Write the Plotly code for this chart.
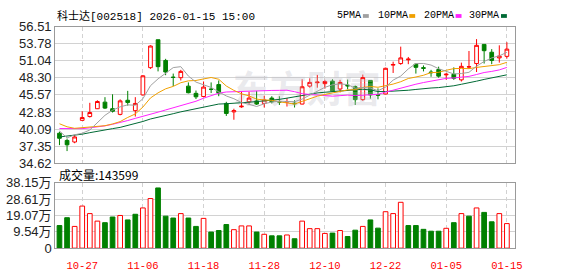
import plotly.graph_objects as go

# ---------------- data ----------------
dates = ["10-22","10-23","10-24","10-27","10-28","10-29","10-30","10-31",
         "11-03","11-04","11-05","11-06","11-07","11-10","11-11","11-12","11-13","11-14",
         "11-17","11-18","11-19","11-20","11-21","11-24","11-25","11-26","11-27","11-28",
         "12-01","12-02","12-03","12-04","12-05","12-08","12-09","12-10","12-11","12-12",
         "12-15","12-16","12-17","12-18","12-19","12-22","12-23","12-24","12-25","12-26",
         "12-29","12-30","12-31",
         "01-05","01-06","01-07","01-08","01-09","01-12","01-13","01-14","01-15"]

opens = [39.41, 38.25, 38.00, 41.48, 42.09, 43.35, 44.41, 43.35, 42.44, 44.71,
         43.04, 45.57, 49.95, 54.44, 51.11, 48.41, 48.34, 46.98, 45.82, 45.31,
         46.49, 47.23, 44.20, 42.84, 43.65, 44.46, 44.61, 44.20, 45.06, 44.48,
         44.41, 44.25, 44.10, 46.98, 47.53, 47.38, 47.79, 46.52, 47.13, 46.88,
         44.81, 47.89, 45.62, 45.72, 50.36, 50.61, 51.22, 50.51, 49.95, 49.25,
         49.65, 48.79, 48.89, 47.99, 50.05, 50.61, 53.69, 52.43, 51.52, 51.77]
highs = [39.66, 38.55, 39.11, 42.94, 44.30, 44.71, 45.21, 45.67, 44.86, 46.22,
         45.21, 48.74, 53.54, 54.44, 51.37, 49.00, 49.60, 47.58, 46.27, 47.73,
         47.58, 47.89, 44.46, 43.35, 46.07, 46.07, 46.22, 45.46, 45.36, 45.36,
         45.06, 44.71, 48.09, 48.24, 48.79, 47.99, 48.09, 47.99, 48.04, 47.08,
         48.84, 47.89, 46.62, 49.95, 50.91, 53.33, 51.67, 50.61, 50.31, 49.60,
         50.11, 49.10, 50.00, 50.76, 52.63, 54.54, 53.69, 52.93, 53.54, 54.04]
lows = [37.50, 36.54, 37.80, 41.43, 41.93, 43.30, 43.30, 42.74, 42.29, 43.85,
        42.09, 45.46, 49.75, 49.35, 48.74, 46.98, 47.89, 45.82, 44.91, 45.21,
        45.87, 45.36, 42.19, 41.58, 43.50, 44.05, 43.95, 43.55, 44.20, 43.95,
        43.70, 43.55, 44.05, 46.73, 46.73, 46.57, 46.07, 45.97, 46.47, 43.95,
        44.61, 44.96, 44.86, 45.67, 49.10, 50.41, 50.51, 49.00, 49.35, 48.49,
        48.34, 47.99, 47.99, 47.73, 49.75, 49.25, 50.61, 50.51, 50.76, 51.42]
closes = [38.60, 37.55, 38.81, 41.93, 42.74, 44.51, 43.45, 42.94, 44.61, 44.36,
          44.20, 48.64, 53.43, 50.11, 49.25, 48.39, 49.35, 45.92, 45.26, 46.83,
          46.47, 45.87, 42.59, 43.04, 43.75, 45.06, 44.10, 44.76, 44.46, 44.43,
          44.51, 44.15, 46.88, 47.58, 47.63, 47.73, 46.17, 47.58, 47.03, 44.81,
          48.34, 45.57, 45.52, 49.85, 50.46, 51.52, 51.32, 50.00, 49.85, 49.15,
          48.59, 48.89, 48.24, 50.16, 50.10, 53.54, 52.68, 51.11, 51.82, 52.93]

ma5 = [39.77, 38.66, 39.16, 39.41, 39.93, 41.11, 42.29, 43.11, 43.65, 43.97,
       43.91, 44.95, 47.05, 48.15, 49.13, 49.96, 50.11, 48.60, 47.63, 47.15,
       46.77, 46.07, 45.40, 44.96, 44.34, 44.06, 43.71, 44.14, 44.43, 44.56,
       44.47, 44.48, 44.90, 45.53, 46.14, 46.79, 47.20, 47.34, 47.23, 46.66,
       46.79, 46.67, 46.25, 46.82, 47.95, 48.60, 49.75, 50.62, 50.63, 50.37,
       49.78, 49.30, 48.94, 49.01, 49.20, 50.19, 50.94, 51.52, 51.85, 52.42]
ma10 = [40.93, 40.45, 40.20, 40.30, 40.50, 40.55, 40.62, 40.90, 41.28, 41.95,
        42.51, 43.62, 45.08, 45.90, 46.55, 46.94, 47.53, 47.83, 47.89, 48.14,
        48.37, 48.09, 47.00, 46.30, 45.75, 45.41, 44.89, 44.77, 44.69, 44.46,
        44.26, 44.10, 44.53, 44.98, 45.37, 45.64, 45.84, 46.13, 46.38, 46.41,
        46.79, 46.93, 46.80, 47.03, 47.31, 47.69, 48.21, 48.45, 48.73, 49.16,
        49.20, 49.53, 49.80, 49.83, 49.79, 49.99, 50.13, 50.24, 50.43, 50.81]
ma20 = [40.17, 40.15, 40.12, 40.15, 40.28, 40.42, 40.60, 40.85, 41.10, 41.45,
        41.80, 42.10, 42.45, 42.80, 43.15, 43.50, 43.80, 44.15, 44.55, 45.04,
        45.44, 45.85, 46.04, 46.10, 46.15, 46.18, 46.21, 46.30, 46.29, 46.30,
        46.32, 46.09, 45.77, 45.64, 45.56, 45.53, 45.37, 45.45, 45.54, 45.44,
        45.53, 45.52, 45.67, 46.01, 46.35, 46.67, 47.03, 47.29, 47.56, 47.79,
        47.99, 48.23, 48.30, 48.43, 48.55, 48.85, 49.17, 49.35, 49.59, 49.99]
ma30 = [38.81, 38.95, 39.10, 39.26, 39.50, 39.75, 39.95, 40.15, 40.35, 40.65,
        41.00, 41.30, 41.70, 41.95, 42.25, 42.55, 42.85, 43.10, 43.40, 43.65,
        43.95, 44.10, 44.15, 44.20, 44.30, 44.40, 44.50, 44.60, 44.70, 44.85,
        45.05, 45.27, 45.54, 45.73, 45.89, 46.00, 46.09, 46.24, 46.32, 46.34,
        46.48, 46.37, 46.11, 46.11, 46.15, 46.25, 46.32, 46.45, 46.60, 46.68,
        46.75, 46.85, 47.04, 47.28, 47.49, 47.78, 48.06, 48.27, 48.52, 48.80]

volumes_wan = [13.2, 17.8, 12.7, 24.6, 20.2, 15.8, 14.9, 18.2, 19.1, 16.5,
               19.8, 23.5, 29.0, 35.2, 18.7, 17.6, 20.2, 17.6, 12.7, 17.4,
               9.4, 10.3, 13.8, 10.8, 13.0, 13.0, 9.4, 8.1, 7.2, 7.2,
               7.7, 5.5, 15.8, 11.4, 11.4, 8.6, 8.8, 10.3, 6.8, 10.5,
               12.7, 16.5, 11.7, 21.3, 20.2, 26.8, 13.2, 13.2, 11.0, 9.9,
               9.9, 11.6, 14.9, 20.2, 18.7, 23.5, 20.9, 15.4, 20.2, 14.36]

tick_dates = ["10-27", "11-06", "11-18", "11-28", "12-10", "12-22", "01-05", "01-15"]
price_ticks = ["34.62", "37.35", "40.09", "42.83", "45.57", "48.30", "51.04", "53.78", "56.51"]
vol_ticks = ["0", "9.54万", "19.07万", "28.61万", "38.15万"]
vol_tick_vals = [0, 9.54, 19.07, 28.61, 38.15]
title_text = "科士达[002518] 2026-01-15 15:00"
vol_title = "成交量:143599"
ma_names = ["5PMA", "10PMA", "20PMA", "30PMA"]

# ---------------- styling ----------------
W, H = 578, 276
def px(x):
    return x / W
def py(y):
    return 1 - y / H

RED = "#ff0000"
GREEN = "#008000"
MA_COLORS = ["#a0a0a0", "#f0a000", "#ff22ff", "#006a35"]
GRID = "#d2d2d2"
BORDER = "#9a9a9a"

idx = list(range(len(dates)))
tickvals = [dates.index(d) for d in tick_dates]
xr = [-0.56, len(dates) + 0.04]

fig = go.Figure()

# watermark (below everything)
fig.add_trace(go.Scatter(x=[32.6], y=[45.75], text=["东方财富"], mode="text",
                         textfont=dict(family="Noto Sans CJK SC", size=37,
                                       color="rgba(190,190,200,0.32)", weight="bold"),
                         hoverinfo="skip", showlegend=False, xaxis="x", yaxis="y"))

for vals, col in zip([ma30, ma20, ma10, ma5], MA_COLORS[::-1]):
    fig.add_trace(go.Scatter(x=idx, y=vals, mode="lines", line=dict(color=col, width=1),
                             hoverinfo="skip", showlegend=False, xaxis="x", yaxis="y"))

fig.add_trace(go.Candlestick(
    x=idx, open=opens, high=highs, low=lows, close=closes,
    increasing=dict(line=dict(color=RED, width=1), fillcolor="#ffffff"),
    decreasing=dict(line=dict(color=GREEN, width=1), fillcolor=GREEN),
    whiskerwidth=0, showlegend=False, hoverinfo="skip", xaxis="x", yaxis="y"))

# volume colours: up vs previous close
up = []
for i, c in enumerate(closes):
    ref = closes[i - 1] if i > 0 else opens[0]
    up.append(c >= ref)
fig.add_trace(go.Bar(
    x=idx, y=volumes_wan, width=0.62,
    marker=dict(color=["#ffffff" if u else GREEN for u in up],
                line=dict(color=[RED if u else GREEN for u in up], width=1)),
    showlegend=False, hoverinfo="skip", xaxis="x2", yaxis="y2"))

axis_common = dict(showline=True, mirror=True, linecolor=BORDER, linewidth=1,
                   zeroline=False, ticks="", fixedrange=True)

fig.update_layout(
    width=W, height=H, autosize=False,
    margin=dict(l=0, r=0, t=0, b=0),
    paper_bgcolor="white", plot_bgcolor="white",
    showlegend=False,
    xaxis=dict(domain=[px(56), px(522)], range=xr, anchor="y",
               tickmode="array", tickvals=tickvals, showticklabels=False,
               showgrid=True, gridcolor=GRID, griddash="4px,3px",
               rangeslider=dict(visible=False), **axis_common),
    yaxis=dict(domain=[py(165), py(21)], range=[34.62, 56.51], anchor="x",
               tickmode="array", tickvals=[float(t) for t in price_ticks], ticktext=price_ticks,
               showgrid=True, gridcolor=GRID,
               tickfont=dict(family="Liberation Sans", size=13, color="#222"),
               **axis_common),
    xaxis2=dict(domain=[px(56), px(522)], range=xr, anchor="y2",
                tickmode="array", tickvals=tickvals, ticktext=tick_dates,
                showgrid=True, gridcolor=GRID, griddash="4px,3px",
                tickfont=dict(family="Liberation Mono", size=10.5, color=RED),
                ticklabelstandoff=7,
                **axis_common),
    yaxis2=dict(domain=[py(255), py(186)], range=[0, 38.15], anchor="x2",
                tickmode="array", tickvals=vol_tick_vals, ticktext=vol_ticks,
                showgrid=True, gridcolor=GRID,
                tickfont=dict(family="Liberation Sans, Noto Sans CJK SC", size=13, color="#222"),
                **axis_common),
)

annos = [
    dict(text=title_text, x=px(56), y=py(9.5), xanchor="left", yanchor="middle",
         font=dict(family="Liberation Mono, Noto Sans CJK SC", size=11, color="#000")),
    dict(text=vol_title, x=px(58), y=py(177), xanchor="left", yanchor="middle",
         font=dict(family="Noto Sans CJK SC", size=12, color="#000")),
]
leg_x = [340, 381, 428, 474]
shapes = []
for name, lx, col in zip(ma_names, leg_x, MA_COLORS):
    annos.append(dict(text=name, x=px(lx), y=py(9.5), xanchor="left", yanchor="middle",
                      font=dict(family="Liberation Mono", size=10, color="#000")))
    sx = lx + len(name) * 6 + 4
    shapes.append(dict(type="rect", xref="paper", yref="paper",
                       x0=px(sx), x1=px(sx + 6), y0=py(11.5), y1=py(7.5),
                       fillcolor=col, line=dict(width=0)))
for a in annos:
    a.update(xref="paper", yref="paper", showarrow=False)

fig.update_layout(annotations=annos, shapes=shapes)

fig.write_html("out.html", config={"displayModeBar": False, "staticPlot": True},
               post_script="document.body.style.margin='0';")
